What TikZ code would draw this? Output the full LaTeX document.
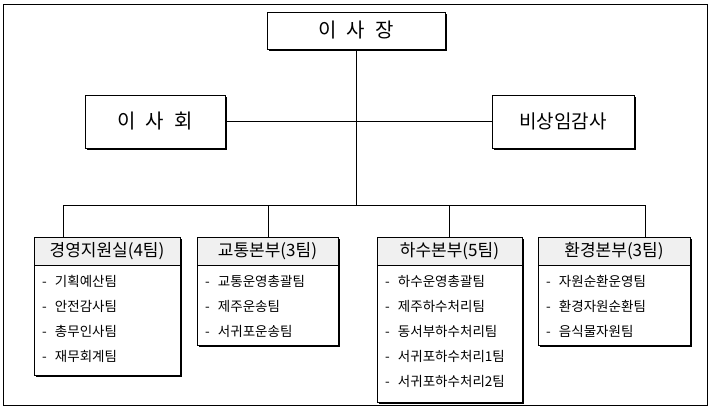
\documentclass[tikz,border=0pt]{standalone}
\usepackage{fontspec}
\setmainfont{Noto Sans CJK KR}
\begin{document}
\begin{tikzpicture}[x=1pt,y=-1pt,
  sh/.style={draw=black,line width=0.8pt},
  item/.style={anchor=west,font=\fontsize{13.5}{15}\selectfont,inner sep=0pt},
  hd/.style={font=\fontsize{17}{19}\selectfont,inner sep=0pt},
  ln/.style={line width=0.8pt}]
\useasboundingbox (0,0) rectangle (710,410);
\draw[line width=1pt] (3,4) rectangle (707,405);
\newcommand{\shbox}[5]{% name,x1,y1,x2,y2
  \fill[black] (#2+2,#3+2) rectangle (#4+2,#5+2);
  \draw[sh,fill=white] (#2,#3) rectangle (#4,#5);
  \coordinate (#1) at ({(#2+#4)/2},{(#3+#5)/2});
  \coordinate (#1-s) at ({(#2+#4)/2},#5);
  \coordinate (#1-w) at (#2,{(#3+#5)/2});
  \coordinate (#1-e) at (#4,{(#3+#5)/2});}
\shbox{ceo}{267}{12}{445}{49}
\node[font=\fontsize{20}{22}\selectfont] (ceot) at (ceo) {이\hspace{0.5em}사\hspace{0.5em}장};
\shbox{bd}{85}{95}{225}{148}
\node[font=\fontsize{20}{22}\selectfont] (bdt) at (bd) {이\hspace{0.5em}사\hspace{0.5em}회};
\shbox{aud}{492}{95}{634}{148}
\node[font=\fontsize{19}{21}\selectfont] (audt) at (aud) {비상임감사};
\coordinate (j2) at (356,205);
\draw[ln] (ceo-s) -- (j2);
\draw[ln] (bd-e) -- (aud-w);
\newcommand{\dept}[7]{% name,x1,x2,bottom,dropx,title,items
  \fill[black] (#2+2,239) rectangle (#3+2,#4+2);
  \draw[sh,fill=white] (#2,237) rectangle (#3,#4);
  \draw[sh,fill=black!6] (#2,237) rectangle (#3,265);
  \node[hd] (#1) at ({(#2+#3)/2},251) {#6};
  \coordinate (#1-top) at (#5,237);
  \coordinate (#1-bus) at (#5,205);
  \draw[ln] (#1-bus) -- (#1-top);
  \foreach \t [count=\i] in {#7}{\node[item] at (#2+8,{256+25*\i}) {-\hspace{0.6em}\t};}}
\dept{d1}{34}{180}{375}{63}{경영지원실(4팀)}{기획예산팀,안전감사팀,총무인사팀,재무회계팀}
\dept{d2}{197}{338}{345}{268}{교통본부(3팀)}{교통운영총괄팀,제주운송팀,서귀포운송팀}
\dept{d3}{377}{522}{402}{449}{하수본부(5팀)}{하수운영총괄팀,제주하수처리팀,동서부하수처리팀,서귀포하수처리1팀,서귀포하수처리2팀}
\dept{d4}{538}{690}{345}{645}{환경본부(3팀)}{자원순환운영팀,환경자원순환팀,음식물자원팀}
\draw[ln] (d1-bus) -- (d4-bus);
\end{tikzpicture}
\end{document}
